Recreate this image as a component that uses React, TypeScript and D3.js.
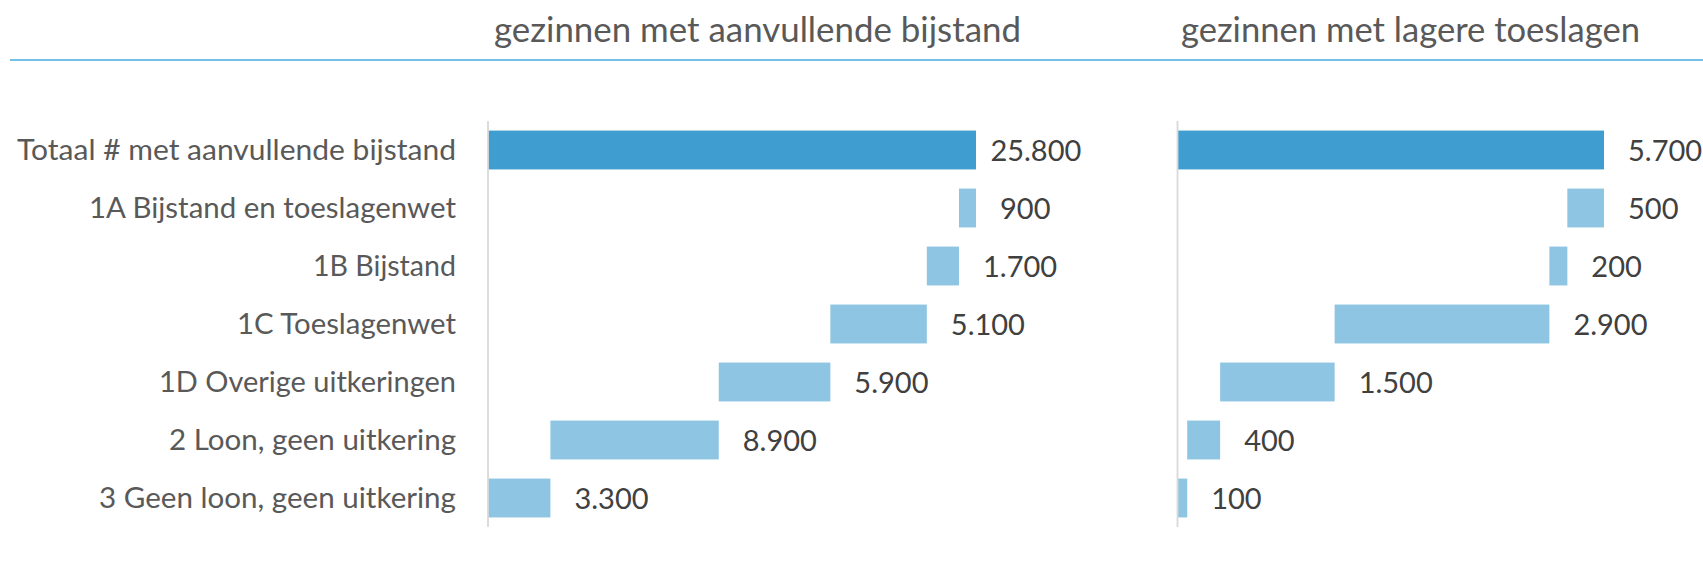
import React from "react";
import * as d3 from "d3";

const categories = [
  "Totaal # met aanvullende bijstand",
  "1A Bijstand en toeslagenwet",
  "1B Bijstand",
  "1C Toeslagenwet",
  "1D Overige uitkeringen",
  "2 Loon, geen uitkering",
  "3 Geen loon, geen uitkering",
];

const panelTitles = ["gezinnen met aanvullende bijstand", "gezinnen met lagere toeslagen"];

// values per category (first entry is the total)
const bijstandValues = [25800, 900, 1700, 5100, 5900, 8900, 3300];
const toeslagenValues = [5700, 490, 240, 2870, 1530, 440, 130];

const axisMax = [30000, 6000];

const W = 1703;
const H = 587;

const nl = d3.formatLocale({ decimal: ",", thousands: ".", grouping: [3], currency: ["€", ""] });
const fmt = (v: number) => nl.format(",.0f")(Math.round(v / 100) * 100);

const FONT = "Lato, 'Open Sans', sans-serif";
const C_TOTAL = "#3F9ECF";
const C_PART = "#8DC5E2";
const C_LABEL = "#595959";
const C_VALUE = "#404040";

const labelWidths = [439, 367, 143, 219, 297, 287, 357];
const titleLayout = [
  { x: 494, w: 527 },
  { x: 1181, w: 459 },
];

const panels = [
  { values: bijstandValues, x0: 488, x1: 488 + 30000 * (488 / 25800), labelMax: 1078, max: axisMax[0] },
  { values: toeslagenValues, x0: 1177.5, x1: 1177.5 + 6000 * (426.5 / 5700), labelMax: 1703, max: axisMax[1] },
];

const y = d3.scaleBand<string>().domain(categories).range([121, 527]).paddingInner(0.33).paddingOuter(0.165);

function approxWidth(s: string) {
  return s.length * 14.6;
}

function Panel({ p }: { p: (typeof panels)[number] }) {
  const x = d3.scaleLinear().domain([0, p.max]).range([p.x0, p.x1]);
  const total = p.values[0];
  // waterfall: parts stack from the right (1A at the top) down to 0
  const parts = p.values.slice(1);
  let end = total;
  const segs = p.values.map((v, i) => {
    if (i === 0) return { start: 0, end: total, v };
    const s = { start: end - v, end, v };
    end -= v;
    return s;
  });
  void parts;
  return (
    <g>
      {segs.map((s, i) => {
        const cy = (y(categories[i]) as number) + y.bandwidth() / 2;
        const xe = x(s.end);
        const txt = fmt(s.v);
        let tx = xe + 24;
        const tw = approxWidth(txt);
        if (tx + tw > p.labelMax) tx = p.labelMax - tw;
        return (
          <g key={i}>
            <rect
              x={x(s.start)}
              y={y(categories[i])}
              width={Math.max(0, x(s.end) - x(s.start))}
              height={y.bandwidth()}
              fill={i === 0 ? C_TOTAL : C_PART}
            />
            <text x={tx} y={cy + 11} fontSize={29} fill={C_VALUE} fontFamily={FONT}>
              {txt}
            </text>
          </g>
        );
      })}
      <line x1={p.x0} x2={p.x0} y1={121} y2={527} stroke="#D9D9D9" strokeWidth={1.8} />
    </g>
  );
}

export default function App() {
  return (
    <svg width={W} height={H} style={{ position: "absolute", left: 0, top: 0, background: "#fff" }}>
      {panelTitles.map((t, i) => (
        <text
          key={t}
          x={titleLayout[i].x}
          y={42}
          fontSize={34.5}
          fill={C_LABEL}
          fontFamily={FONT}
          textLength={titleLayout[i].w}
          lengthAdjust="spacingAndGlyphs"
        >
          {t}
        </text>
      ))}
      <line x1={10} x2={W} y1={60} y2={60} stroke="#72C2E8" strokeWidth={2.2} />
      {categories.map((c, i) => (
        <text
          key={c}
          x={456}
          y={(y(c) as number) + y.bandwidth() / 2 + 10}
          textAnchor="end"
          fontSize={29}
          fill={C_LABEL}
          fontFamily={FONT}
          textLength={labelWidths[i]}
          lengthAdjust="spacingAndGlyphs"
        >
          {c}
        </text>
      ))}
      {panels.map((p, i) => (
        <Panel key={i} p={p} />
      ))}
    </svg>
  );
}
